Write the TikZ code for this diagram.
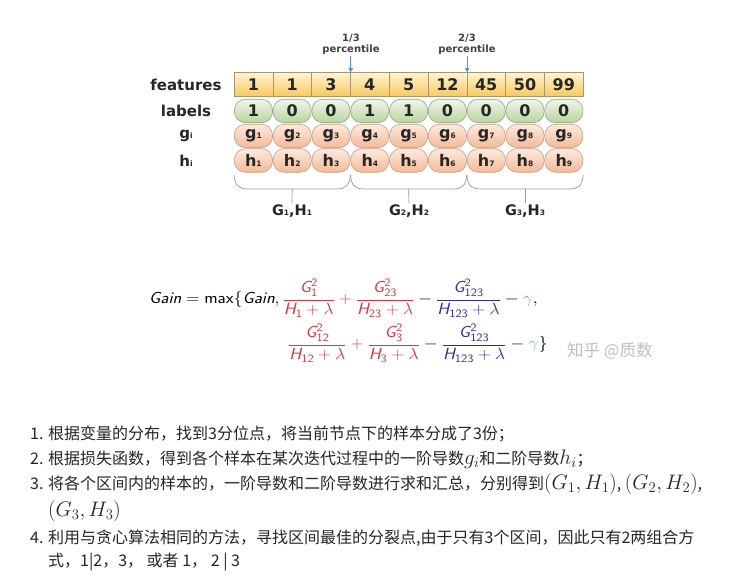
\RequirePackage{fix-cm}
\documentclass[tikz,border=0pt]{standalone}
\usepackage{amsmath}
\usepackage{graphicx}
\usepackage{fontspec}
\newfontfamily\cjk{Noto Sans CJK SC}
\newfontfamily\dvs{DejaVu Sans}
\usetikzlibrary{arrows.meta}
\definecolor{fborder}{RGB}{170,150,110}
\definecolor{ftop}{RGB}{255,244,210}
\definecolor{fbot}{RGB}{247,200,95}
\definecolor{lborder}{RGB}{150,165,135}
\definecolor{ltop}{RGB}{240,246,232}
\definecolor{lbot}{RGB}{186,212,158}
\definecolor{gborder}{RGB}{195,160,140}
\definecolor{gtop}{RGB}{253,234,222}
\definecolor{gbot}{RGB}{244,185,152}
\definecolor{fred}{RGB}{225,50,60}
\definecolor{fblue}{RGB}{45,45,170}
\definecolor{fgreen}{RGB}{95,205,95}
\definecolor{arrowblue}{RGB}{80,150,215}
\newcommand{\sfi}[1]{\text{\sffamily\itshape #1}}
\newcommand{\sfu}[1]{\text{\sffamily #1}}
\newcommand{\smallsub}[1]{{\fontsize{7.5}{8}\selectfont #1}}
\newcommand{\listmath}[1]{{\fontsize{21}{22}\selectfont$#1$}}
\begin{document}
\begin{tikzpicture}[x=1pt,y=-1pt,
  fcell/.style={rectangle, draw=fborder, line width=0.6pt, top color=ftop, bottom color=fbot,
    minimum width=38.8pt, minimum height=24pt, inner sep=0pt,
    font=\dvs\bfseries\fontsize{16}{16}\selectfont, text=black!85},
  pill/.style={rectangle, rounded corners=11pt, line width=0.6pt,
    minimum width=38.2pt, minimum height=23.5pt, inner sep=0pt,
    font=\dvs\bfseries\fontsize{16}{16}\selectfont, text=black!85},
  lcell/.style={pill, draw=lborder, top color=ltop, bottom color=lbot},
  gcell/.style={pill, draw=gborder, top color=gtop, bottom color=gbot},
  rowlab/.style={font=\dvs\bfseries\fontsize{15}{15}\selectfont, text=black!85, inner sep=0pt},
  pct/.style={font=\dvs\bfseries\fontsize{10}{10}\selectfont, text=black!75, inner sep=1pt},
  parrow/.style={draw=arrowblue, line width=0.7pt, -{Triangle[length=4pt,width=4.5pt]}},
  brace/.style={draw=black!40, line width=0.7pt},
  glab/.style={font=\dvs\bfseries\fontsize{14.5}{14.5}\selectfont, text=black!85, inner sep=1pt},
  eq/.style={inner sep=0pt, anchor=west, font=\fontsize{18}{21}\selectfont},
  txt/.style={font=\cjk\fontsize{16}{20}\selectfont, text=black!85, inner sep=0pt, anchor=base west}
]
\useasboundingbox[fill=white] (0,0) rectangle (744,584);

% row labels
\node[rowlab] (rf) at (186,84.5) {features};
\node[rowlab] (rl) at (186,111) {labels};
\node[rowlab] (rg) at (186,136) {g\smallsub{i}};
\node[rowlab] (rh) at (186,160.5) {h\smallsub{i}};

% cells
\foreach \v [count=\i] in {1,1,3,4,5,12,45,50,99}
  \node[fcell] (f\i) at ({253.4+38.8*(\i-1)},84.5) {\v};
\foreach \v [count=\i] in {1,0,0,1,1,0,0,0,0}
  \node[lcell] (l\i) at ({253.4+38.8*(\i-1)},111) {\v};
\foreach \i in {1,...,9}
  \node[gcell] (g\i) at ({253.4+38.8*(\i-1)},136) {g\smallsub{\i}};
\foreach \i in {1,...,9}
  \node[gcell] (h\i) at ({253.4+38.8*(\i-1)},160.5) {h\smallsub{\i}};

% percentiles
\node[pct] (p1a) at (351,38) {1/3};
\node[pct] (p1b) at (351,50) {percentile};
\node[pct] (p2a) at (467,38) {2/3};
\node[pct] (p2b) at (467,50) {percentile};
\draw[parrow] (p1b.south -| f3.north east) -- (f3.north east);
\draw[parrow] (p2b.south -| f6.north east) -- (f6.north east);

% braces
\node[glab] (G1) at (292,211) {G\smallsub{1},H\smallsub{1}};
\node[glab] (G2) at (409,211) {G\smallsub{2},H\smallsub{2}};
\node[glab] (G3) at (525,211) {G\smallsub{3},H\smallsub{3}};
\foreach \a/\b/\n in {234/350.4/G1, 350.4/466.8/G2, 466.8/583.2/G3}{
  \draw[brace] (\a,175) .. controls (\a+1,185) and (\a+4,189) .. (\a+14,189)
     -- (\b-14,189) .. controls (\b-4,189) and (\b-1,185) .. (\b,175);
  \draw[brace] ({(\a+\b)/2},189) -- (\n.north);
}

% formula
\node[eq] (eq1) at (149,298) {\scalebox{1}[0.9]{$\displaystyle \sfi{Gain} = \sfu{max}\{\sfi{Gain},
  \textcolor{fred}{\frac{\sfi{G}_{\sfu{1}}^{\sfu{2}}}{\sfi{H}_{\sfu{1}}+\lambda}
  + \frac{\sfi{G}_{\sfu{23}}^{\sfu{2}}}{\sfi{H}_{\sfu{23}}+\lambda}}
  - \textcolor{fblue}{\frac{\sfi{G}_{\sfu{123}}^{\sfu{2}}}{\sfi{H}_{\sfu{123}}+\lambda}}
  - \textcolor{fgreen}{\gamma},$}};
\node[eq] (eq2) at (288,343) {\scalebox{1}[0.9]{$\displaystyle
  \textcolor{fred}{\frac{\sfi{G}_{\sfu{12}}^{\sfu{2}}}{\sfi{H}_{\sfu{12}}+\lambda}
  + \frac{\sfi{G}_{\sfu{3}}^{\sfu{2}}}{\sfi{H}_{\sfu{3}}+\lambda}}
  - \textcolor{fblue}{\frac{\sfi{G}_{\sfu{123}}^{\sfu{2}}}{\sfi{H}_{\sfu{123}}+\lambda}}
  - \textcolor{fgreen}{\gamma}\}$}};
\node[inner sep=0pt, anchor=west, font=\cjk\fontsize{16.5}{16.5}\selectfont, text=black!25] (wm) at (567,351) {知乎 @质数};

% list
\node[txt] (n1) at (30,439) {1.};
\node[txt] (t1) at (48,439) {根据变量的分布，找到3分位点，将当前节点下的样本分成了3份；};
\node[txt] (n2) at (30,464) {2.};
\node[txt] (t2) at (48,464) {根据损失函数，得到各个样本在某次迭代过程中的一阶导数\listmath{g_i}和二阶导数\listmath{h_i}；};
\node[txt] (n3) at (30,489) {3.};
\node[txt] (t3) at (48,489) {将各个区间内的样本的，一阶导数和二阶导数进行求和汇总，分别得到\listmath{(G_1,H_1)}, \listmath{(G_2,H_2)},};
\node[txt] (t3b) at (48,516) {\listmath{(G_3,H_3)}};
\node[txt] (n4) at (30,543) {4.};
\node[txt] (t4) at (48,543) {利用与贪心算法相同的方法，寻找区间最佳的分裂点,由于只有3个区间，因此只有2两组合方};
\node[txt] (t4b) at (48,566) {式，1|2，3， 或者 1， 2 | 3};
\end{tikzpicture}
\end{document}
